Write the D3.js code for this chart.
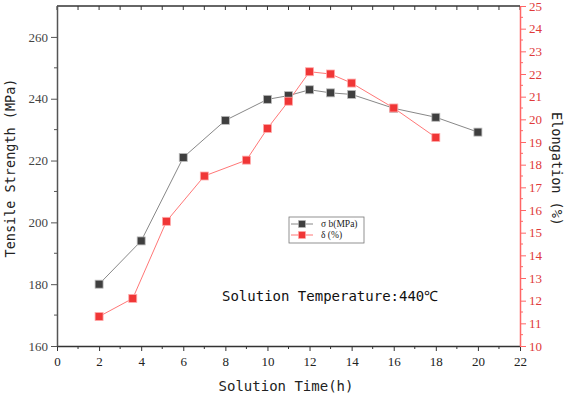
<!DOCTYPE html>
<html>
<head>
<meta charset="utf-8">
<script src="https://cdn.jsdelivr.net/npm/d3@7"></script>
<style>
  body { margin: 0; background: #fff; }
  svg { display: block; }
</style>
</head>
<body>
<div id="chart"></div>
<script>
// solution time (h) vs tensile strength / elongation
const timeSigma = [2, 4, 6, 8, 10, 11, 12, 13, 14, 16, 18, 20];
const sigmaB = [180, 194, 221, 233, 239.8, 241, 242.9, 241.9, 241.4, 236.9, 234, 229.2];
const timeDelta = [2, 3.6, 5.2, 7, 9, 10, 11, 12, 13, 14, 16, 18];
const delta = [11.3, 12.1, 15.5, 17.5, 18.2, 19.6, 20.8, 22.1, 22.0, 21.6, 20.5, 19.2];
const xTicks = d3.range(0, 23, 2);
const leftTicks = [160, 180, 200, 220, 240, 260];
const rightTicks = d3.range(10, 26, 1);

const width = 566, height = 396;
const margin = {top: 6, right: 46, bottom: 50, left: 57};

const svg = d3.select("#chart").append("svg")
    .attr("width", width)
    .attr("height", height);

const x = d3.scaleLinear([0, 22], [margin.left, width - margin.right]);
const yL = d3.scaleLinear([160, 270], [height - margin.bottom, margin.top]);
const yR = d3.scaleLinear([10, 25], [height - margin.bottom, margin.top]);

const serif = "'Liberation Serif', 'Times New Roman', serif";
const mono = "'DejaVu Sans Mono', monospace";

// frame top
svg.append("line")
    .attr("x1", x(0)).attr("x2", x(22))
    .attr("y1", margin.top).attr("y2", margin.top)
    .attr("stroke", "#333").attr("stroke-width", 1.5);
svg.append("g").selectAll("line")
  .data(d3.range(0, 23, 1))
  .join("line")
    .attr("x1", d => x(d)).attr("x2", d => x(d))
    .attr("y1", margin.top).attr("y2", margin.top + 4)
    .attr("stroke", "#333");

// bottom axis
const gx = svg.append("g")
    .attr("transform", `translate(0,${height - margin.bottom})`)
    .call(d3.axisBottom(x).tickValues(xTicks).tickSize(5).tickSizeOuter(0))
    .call(g => g.select(".domain").attr("stroke", "#333").attr("stroke-width", 1.5))
    .call(g => g.selectAll(".tick line").attr("stroke", "#333"))
    .call(g => g.selectAll(".tick text").attr("font-family", serif).attr("font-size", 13).attr("fill", "#222").attr("dy", "0.9em"));
gx.selectAll(".minor")
  .data(d3.range(1, 22, 2))
  .join("line")
    .attr("x1", d => x(d)).attr("x2", d => x(d))
    .attr("y1", 0).attr("y2", 3)
    .attr("stroke", "#333");

// left axis
const gl = svg.append("g")
    .attr("transform", `translate(${margin.left},0)`)
    .call(d3.axisLeft(yL).tickValues(leftTicks).tickSize(6).tickSizeOuter(0))
    .call(g => g.select(".domain").attr("stroke", "#555").attr("stroke-width", 1.5))
    .call(g => g.selectAll(".tick line").attr("stroke", "#555"))
    .call(g => g.selectAll(".tick text").attr("font-family", serif).attr("font-size", 13).attr("fill", "#444"));
gl.selectAll(".minor")
  .data(d3.range(170, 270, 20))
  .join("line")
    .attr("x1", 0).attr("x2", -3)
    .attr("y1", d => yL(d)).attr("y2", d => yL(d))
    .attr("stroke", "#555");

// right axis
const gr = svg.append("g")
    .attr("transform", `translate(${width - margin.right},0)`)
    .call(d3.axisRight(yR).tickValues(rightTicks).tickSize(6).tickSizeOuter(0))
    .call(g => g.select(".domain").attr("stroke", "#f66").attr("stroke-width", 1.5))
    .call(g => g.selectAll(".tick line").attr("stroke", "#f66"))
    .call(g => g.selectAll(".tick text").attr("font-family", serif).attr("font-size", 13).attr("fill", "#e03a3a"));
gr.selectAll(".minor")
  .data(d3.range(10.5, 25, 1))
  .join("line")
    .attr("x1", 0).attr("x2", 3)
    .attr("y1", d => yR(d)).attr("y2", d => yR(d))
    .attr("stroke", "#f66");

// axis titles
svg.append("text")
    .attr("transform", "translate(15,168) rotate(-90)")
    .attr("text-anchor", "middle")
    .attr("font-family", mono).attr("font-size", 13.5).attr("fill", "#222")
    .text("Tensile Strength (MPa)");
svg.append("text")
    .attr("transform", "translate(552,169) rotate(90)")
    .attr("text-anchor", "middle")
    .attr("font-family", mono).attr("font-size", 13.5).attr("fill", "#222")
    .text("Elongation (%)");
svg.append("text")
    .attr("x", 286).attr("y", 391)
    .attr("text-anchor", "middle")
    .attr("font-family", mono).attr("font-size", 14).attr("fill", "#222")
    .text("Solution Time(h)");

// series
const line = (xs, ys, sy) => d3.line().x((d, i) => x(xs[i])).y(d => sy(d))(ys);

svg.append("path")
    .attr("d", line(timeSigma, sigmaB, yL))
    .attr("fill", "none").attr("stroke", "#888").attr("stroke-width", 1);
svg.append("path")
    .attr("d", line(timeDelta, delta, yR))
    .attr("fill", "none").attr("stroke", "#f77").attr("stroke-width", 1);

const sq = 8;
svg.append("g").selectAll("rect")
  .data(sigmaB)
  .join("rect")
    .attr("x", (d, i) => x(timeSigma[i]) - sq / 2)
    .attr("y", d => yL(d) - sq / 2)
    .attr("width", sq).attr("height", sq)
    .attr("fill", "#3f3f3f").attr("stroke", "#bbb").attr("stroke-width", 0.8);
svg.append("g").selectAll("rect")
  .data(delta)
  .join("rect")
    .attr("x", (d, i) => x(timeDelta[i]) - sq / 2)
    .attr("y", d => yR(d) - sq / 2)
    .attr("width", sq).attr("height", sq)
    .attr("fill", "#f03636").attr("stroke", "#faa").attr("stroke-width", 0.8);

// legend
const lg = svg.append("g").attr("transform", "translate(289,217)");
lg.append("rect")
    .attr("width", 75).attr("height", 26)
    .attr("fill", "#fff").attr("stroke", "#777").attr("stroke-width", 0.8);
const items = [
  {label: "σ b(MPa)", line: "#888", fill: "#3f3f3f", stroke: "#bbb"},
  {label: "δ (%)", line: "#f77", fill: "#f03636", stroke: "#faa"}
];
items.forEach((it, i) => {
  const yy = 7 + i * 11;
  lg.append("line").attr("x1", 2).attr("x2", 24).attr("y1", yy).attr("y2", yy)
    .attr("stroke", it.line);
  lg.append("rect").attr("x", 9.5).attr("y", yy - 3.5).attr("width", 7).attr("height", 7)
    .attr("fill", it.fill).attr("stroke", it.stroke).attr("stroke-width", 0.6);
  lg.append("text").attr("x", 32).attr("y", yy).attr("dy", "0.35em")
    .attr("font-family", serif).attr("font-size", 9.5).attr("fill", "#222")
    .text(it.label);
});

// annotation
svg.append("text")
    .attr("x", 222).attr("y", 301)
    .attr("font-family", mono).attr("font-size", 14).attr("fill", "#111")
    .text("Solution Temperature:440℃");
</script>
</body>
</html>
